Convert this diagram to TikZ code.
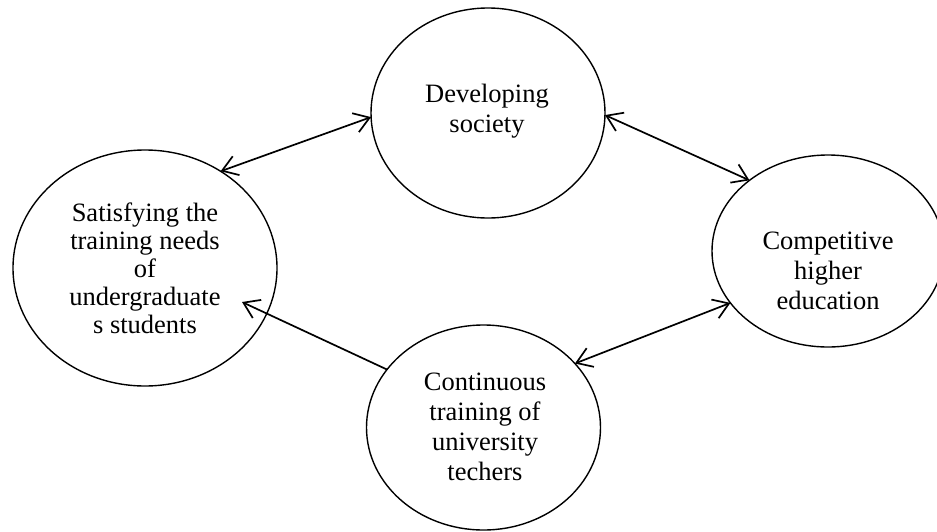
\documentclass[tikz,border=0pt]{standalone}
\usepackage{fontspec}
\setmainfont{Liberation Serif}
\usetikzlibrary{shapes.geometric,arrows.meta}
\begin{document}
\begin{tikzpicture}[x=1pt,y=-1pt,
  oval/.style={draw,ellipse,line width=1.4pt,inner sep=0pt,outer sep=0pt},
  txt/.style={align=center,inner sep=0pt,font=\fontsize{26.5}{30}\selectfont},
  link/.style={line width=1.7pt,{Straight Barb[length=15pt,width=20pt]}-{Straight Barb[length=15pt,width=20pt]}},
  onelink/.style={line width=1.7pt,-{Straight Barb[length=15pt,width=20pt]}}]
\useasboundingbox (0,0) rectangle (937,531);
\node[oval,minimum width=234pt,minimum height=210pt] (dev) at (488,113) {};
\node[oval,minimum width=264pt,minimum height=236pt] (sat) at (145,268) {};
\node[oval,minimum width=232pt,minimum height=192pt] (comp) at (828,251) {};
\node[oval,minimum width=234pt,minimum height=205pt] (cont) at (483.5,427.5) {};
\node[txt] (devt) at (487,111) {Developing\\society};
\node[txt,font=\fontsize{26.5}{28}\selectfont] (satt) at (145,268) {Satisfying the\\training needs\\of\\undergraduate\\s students};
\node[txt] (compt) at (828,271) {Competitive\\higher\\education};
\node[txt] (contt) at (485,427) {Continuous\\training of\\university\\techers};
\coordinate (satin) at (242,302);
\draw[link] (sat.52.4) -- (dev.182);
\draw[link] (dev.-1) -- (comp.138.8);
\draw[link] (comp.208.9) -- (cont.35.3);
\draw[onelink] (cont.149.8) -- (satin);
\end{tikzpicture}
\end{document}
